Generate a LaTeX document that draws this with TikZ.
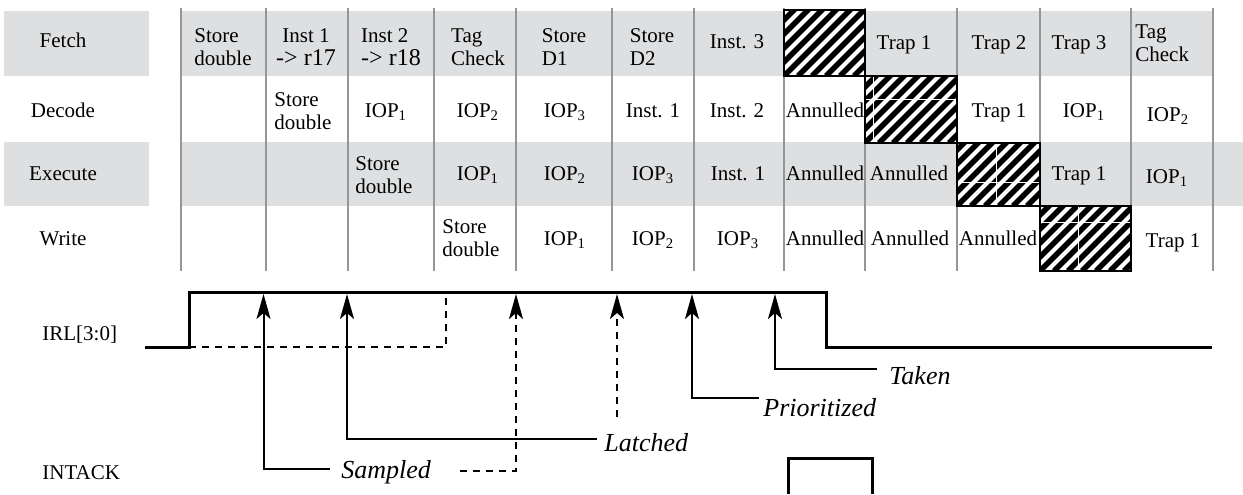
\documentclass[tikz,border=0pt]{standalone}
\usepackage{fontspec}
\setmainfont{Liberation Serif}
\usetikzlibrary{arrows.meta}
\definecolor{band}{RGB}{222,223,225}
\definecolor{rulegray}{RGB}{150,150,150}
\newcommand\iop[1]{IOP\textsubscript{#1}}
\newcommand\bigtxt[1]{{\fontsize{12}{13}\selectfont #1}}
\newcommand\hatchbox[4]{%
  \begin{scope}
    \clip (#1,#2) rectangle (#3,#4);
    \fill[white] (#1,#2) rectangle (#3,#4);
    \foreach \k in {-98,-84,...,112} {
      \draw[line width=2.7pt,black] ({#1+\k},#4) -- ++(90,-90);
    }
  \end{scope}
}
\begin{document}
\begin{tikzpicture}[x=0.5pt,y=-0.5pt,
  cell/.style={font=\fontsize{10.5}{11.5}\selectfont, inner sep=0pt, align=center},
  cellL/.style={cell, align=left},
  lab/.style={font=\fontsize{13}{14}\selectfont\itshape, inner sep=0pt, anchor=base west},
  sig/.style={line width=1.5pt, line join=miter},
  arr/.style={line width=1pt, -{Stealth[length=12.5pt,width=7pt,inset=3pt]}},
  darr/.style={arr, dash pattern=on 3.5pt off 3pt},
  gridline/.style={rulegray, line width=1pt},
  hbox/.style={line width=1.1pt, black},
  crack/.style={white, line width=0.5pt}
]
\useasboundingbox (0,0) rectangle (1243,494);

% gray bands
\fill[band] (4,11) rectangle (149,76);
\fill[band] (182,11) rectangle (1213,76);
\fill[band] (4,142) rectangle (149,206);
\fill[band] (182,142) rectangle (1243,206);

% column rules
\foreach \x in {181,265.5,348,434,516,612,694,784,865,957,1040,1131,1213}
  \draw[gridline] (\x,8) -- (\x,271);

% hatched boxes
\hatchbox{784}{10}{865}{76}
\draw[hbox] (784,10) rectangle (865,76);
\hatchbox{865}{76}{957}{143}
\draw[crack] (865,99) -- (957,99) (873,76) -- (873,143);
\draw[hbox] (865,76) rectangle (957,143);
\hatchbox{957}{143}{1040}{206}
\draw[crack] (957,182) -- (1040,182) (996,143) -- (996,206);
\draw[hbox] (957,143) rectangle (1040,206);
\hatchbox{1040}{206}{1131}{271}
\draw[crack] (1040,222) -- (1131,222) (1078,206) -- (1078,271);
\draw[hbox] (1040,206) rectangle (1131,271);

% row labels
\node[cell, anchor=base] (lf) at (63,47) {Fetch};
\node[cell, anchor=base] (ld) at (63,117) {Decode};
\node[cell, anchor=base] (le) at (63,180) {Execute};
\node[cell, anchor=base] (lw) at (63,245) {Write};

% Fetch row
\node[cellL] (f1) at (223,47) {Store\\double};
\node[cell] (f2) at (306,47) {Inst 1\\\bigtxt{-> r17}};
\node[cellL] (f3) at (391,47) {Inst 2\\\bigtxt{-> r18}};
\node[cellL] (f4) at (478,47) {Tag\\Check};
\node[cellL] (f5) at (564,47) {Store\\D1};
\node[cellL] (f6) at (652,47) {Store\\D2};
\node[cell, anchor=base] (f7) at (737,48) {Inst. 3};
\node[cell, anchor=base] (f9) at (904,49) {Trap 1};
\node[cell, anchor=base] (f10) at (999,49) {Trap 2};
\node[cell, anchor=base] (f11) at (1079,49) {Trap 3};
\node[cellL, anchor=west] (f12) at (1135,43) {Tag\\Check};

% Decode row
\node[cellL, anchor=west] (d2) at (274,111) {Store\\double};
\node[cell, anchor=base] (d3) at (386,117) {\iop{1}};
\node[cell, anchor=base] (d4) at (478,117) {\iop{2}};
\node[cell, anchor=base] (d5) at (565,117) {\iop{3}};
\node[cell, anchor=base] (d6) at (653,117) {Inst. 1};
\node[cell, anchor=base] (d7) at (737,117) {Inst. 2};
\node[cell, anchor=base] (d8) at (825,117) {Annulled};
\node[cell, anchor=base] (d10) at (999,117) {Trap 1};
\node[cell, anchor=base] (d11) at (1084,117) {\iop{1}};
\node[cell, anchor=base] (d12) at (1168,121) {\iop{2}};

% Execute row
\node[cellL, anchor=west] (e3) at (355,175) {Store\\double};
\node[cell, anchor=base] (e4) at (478,180) {\iop{1}};
\node[cell, anchor=base] (e5) at (565,180) {\iop{2}};
\node[cell, anchor=base] (e6) at (653,180) {\iop{3}};
\node[cell, anchor=base] (e7) at (738,180) {Inst. 1};
\node[cell, anchor=base] (e8) at (825,180) {Annulled};
\node[cell, anchor=base] (e9) at (909,180) {Annulled};
\node[cell, anchor=base] (e11) at (1079,180) {Trap 1};
\node[cell, anchor=base] (e12) at (1167,183) {\iop{1}};

% Write row
\node[cellL, anchor=west] (w4) at (442,238) {Store\\double};
\node[cell, anchor=base] (w5) at (565,245) {\iop{1}};
\node[cell, anchor=base] (w6) at (653,245) {\iop{2}};
\node[cell, anchor=base] (w7) at (738,245) {\iop{3}};
\node[cell, anchor=base] (w8) at (825,245) {Annulled};
\node[cell, anchor=base] (w9) at (910,245) {Annulled};
\node[cell, anchor=base] (w10) at (998,245) {Annulled};
\node[cell, anchor=base] (w12) at (1173,247) {Trap 1};

% timing labels
\node[cell, anchor=base west] (irl) at (42,340) {IRL[3:0]};
\node[cell, anchor=base west] (intack) at (42,479) {INTACK};

% IRL signal
\coordinate (i0) at (145,347);
\coordinate (i1) at (189,347);
\coordinate (i2) at (826,292.7);
\coordinate (i3) at (1212,347);
\draw[sig] (i0) -- (i1) |- (i2) |- (i3);
\coordinate (j1) at (446,292.7);
\draw[line width=1pt, dash pattern=on 3.5pt off 3pt] (i1) -| (j1);

% INTACK pulse
\coordinate (p0) at (788,494);
\coordinate (p1) at (872,458);
\coordinate (p2) at (872,494);
\draw[sig] (p0) |- (p1) -- (p2);

% event labels
\node[lab] (sampled) at (341,478) {Sampled};
\node[lab] (latched) at (604,451) {Latched};
\node[lab] (prio) at (763,416) {Prioritized};
\node[lab] (taken) at (889,384) {Taken};

% arrows
\coordinate (sS) at (330,469);   \coordinate (tS) at (263.5,294);
\coordinate (sL) at (597,439);   \coordinate (tL) at (347,294);
\coordinate (sSd) at (460,471);  \coordinate (tSd) at (516,294);
\coordinate (sLd) at (617,417);  \coordinate (tLd) at (617,294);
\coordinate (sP) at (759,398);   \coordinate (tP) at (692,294);
\coordinate (sT) at (877,369);   \coordinate (tT) at (775,294);
\draw[arr] (sS) -| (tS);
\draw[arr] (sL) -| (tL);
\draw[darr] (sSd) -| (tSd);
\draw[darr] (sLd) -- (tLd);
\draw[arr] (sP) -| (tP);
\draw[arr] (sT) -| (tT);
\end{tikzpicture}
\end{document}
